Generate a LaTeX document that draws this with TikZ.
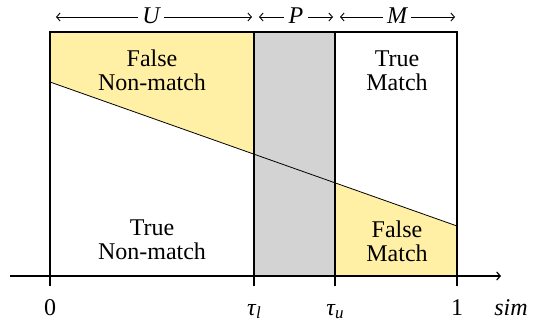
\documentclass[tikz,border=0pt]{standalone}
\usepackage{fontspec}
\setmainfont{Liberation Serif}
\usetikzlibrary{arrows.meta}
\definecolor{fyellow}{RGB}{255,240,165}
\definecolor{fgray}{RGB}{211,211,211}
\begin{document}
\begin{tikzpicture}[x=1pt,y=-1pt,
  lbl/.style={font=\fontsize{24}{24}\selectfont, align=center, inner sep=0pt},
  axlbl/.style={font=\fontsize{24}{24}\selectfont, anchor=base, inner sep=0pt},
  toplbl/.style={font=\fontsize{24}{24}\selectfont\itshape, anchor=base, inner sep=4pt},
  rng/.style={line width=0.9pt, -{Straight Barb[length=3.5pt,width=8pt]}},
  frame/.style={line width=2pt},
  tick/.style={line width=2pt}]
\useasboundingbox (0,0) rectangle (539,323);
% regions
\coordinate (A) at (50,32);
\coordinate (B) at (457,276);
\coordinate (TL) at (254,32);
\coordinate (TU) at (335,32);
\coordinate (TLb) at (254,276);
\coordinate (TUb) at (335,276);
\coordinate (D0) at (50,82);
\coordinate (D1) at (457,226);
\coordinate (DL) at (254,154);
\coordinate (DU) at (335,183);
\fill[fyellow] (A) -- (TL) -- (DL) -- (D0) -- cycle;
\fill[fyellow] (DU) -- (D1) -- (B) -- (TUb) -- cycle;
\fill[fgray] (TL) rectangle (TUb);
\draw[line width=0.8pt] (D0) -- (D1);
\draw[frame] (A) rectangle (B);
\draw[frame] (TL) -- (TLb);
\draw[frame] (TU) -- (TUb);
% axis
\coordinate (X0) at (10,276);
\coordinate (X1) at (501,276);
\draw[line width=1.2pt, -{Straight Barb[length=3.5pt,width=8pt]}] (X0) -- (X1);
\foreach \x/\n in {50/t0,254/t1,335/t2,457/t3}{
  \coordinate (\n) at (\x,276);
  \draw[tick] (\n) -- ++(0,10);
}
% bottom labels
\node[axlbl] (l0) at (50,316) {0};
\node[axlbl] (l1) at (254,316) {\textit{τ\kern0.3pt\raisebox{-3pt}{\fontsize{17}{17}\selectfont l}}};
\node[axlbl] (l2) at (335,316) {\textit{τ\kern0.3pt\raisebox{-3pt}{\fontsize{17}{17}\selectfont u}}};
\node[axlbl] (l3) at (457,316) {1};
\node[axlbl] (lsim) at (511,316) {\textit{sim}};
% region texts
\node[lbl] (fn) at (152,70) {False\\Non-match};
\node[lbl] (tm) at (397,71) {True\\Match};
\node[lbl] (tn) at (152,240) {True\\Non-match};
\node[lbl] (fm) at (397,241) {False\\Match};
% top ranges
\node[toplbl] (U) at (151,24) {U};
\node[toplbl] (P) at (296,24) {P};
\node[toplbl] (M) at (397,24) {M};
\coordinate (U0) at (56,17); \coordinate (U1) at (252,17);
\coordinate (P0) at (259,17); \coordinate (P1) at (333,17);
\coordinate (M0) at (340,17); \coordinate (M1) at (455,17);
\draw[rng] (U.west |- U0) -- (U0);
\draw[rng] (U.east |- U1) -- (U1);
\draw[rng] (P.west |- P0) -- (P0);
\draw[rng] (P.east |- P1) -- (P1);
\draw[rng] (M.west |- M0) -- (M0);
\draw[rng] (M.east |- M1) -- (M1);
\end{tikzpicture}
\end{document}
